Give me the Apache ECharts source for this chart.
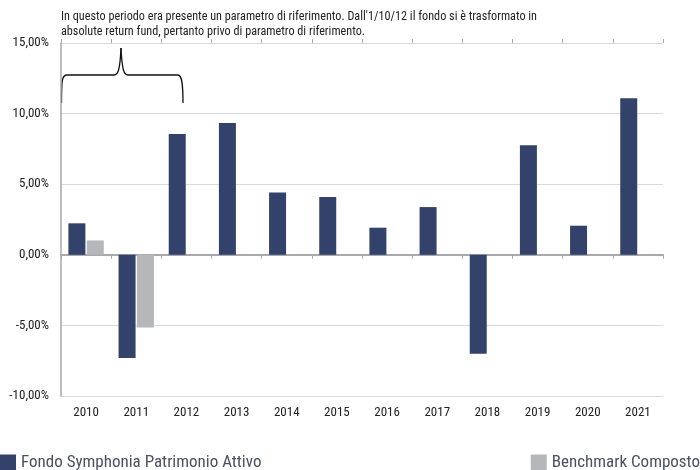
<!DOCTYPE html>
<html>
<head>
  <meta charset="UTF-8">
  <title>Fondo Symphonia Patrimonio Attivo</title>
  <script src="https://cdn.jsdelivr.net/npm/echarts@6/dist/echarts.min.js"></script>
</head>
<body style="margin:0">
  <div id="main" style="width: 700px; height: 470px;"></div>

  <script>
    const years = ['2010', '2011', '2012', '2013', '2014', '2015', '2016', '2017', '2018', '2019', '2020', '2021'];
    const fondo = [2.23, -7.3, 8.56, 9.34, 4.42, 4.09, 1.92, 3.38, -7.0, 7.76, 2.06, 11.09];
    const benchmark = [1.02, -5.15, null, null, null, null, null, null, null, null, null, null];
    const yTicks = [-10, -5, 0, 5, 10, 15];
    const note = [
      'In questo periodo era presente un parametro di riferimento. Dall\'1/10/12 il fondo si è trasformato in',
      'absolute return fund, pertanto privo di parametro di riferimento.'
    ];

    const font = '"Roboto Condensed", "DejaVu Sans Condensed", sans-serif';
    const navy = '#33426b';
    const grey = '#b5b7ba';
    const axisGrey = '#a7a9ad';
    const braceStyle = { fill: 'none', stroke: '#111', lineWidth: 1.3 };

    // curly brace over 2010-2011 (benchmark period)
    const brace = [
      { type: 'bezierCurve', shape: { x1: 61.5, y1: 103, cpx1: 61.5, cpy1: 80, cpx2: 62, cpy2: 75, x2: 67, y2: 75 } },
      { type: 'line', shape: { x1: 67, y1: 75, x2: 114, y2: 75 } },
      { type: 'bezierCurve', shape: { x1: 114, y1: 75, cpx1: 118, cpy1: 75, cpx2: 120, cpy2: 70, x2: 121, y2: 48 } },
      { type: 'bezierCurve', shape: { x1: 121, y1: 48, cpx1: 122, cpy1: 70, cpx2: 124, cpy2: 75, x2: 128, y2: 75 } },
      { type: 'line', shape: { x1: 128, y1: 75, x2: 178, y2: 75 } },
      { type: 'bezierCurve', shape: { x1: 178, y1: 75, cpx1: 182, cpy1: 75, cpx2: 183, cpy2: 85, x2: 183, y2: 103 } }
    ].map(g => Object.assign(g, { style: braceStyle }));

    const legendText = { fontSize: 17, color: '#4a5163', fontFamily: font };

    const option = {
      animation: false,
      textStyle: { fontFamily: font },
      grid: { left: 61, right: 37, top: 43, bottom: 74 },
      legend: [
        {
          data: ['Fondo Symphonia Patrimonio Attivo'],
          left: -5, bottom: -6, icon: 'rect',
          itemWidth: 16, itemHeight: 16,
          textStyle: legendText
        },
        {
          data: ['Benchmark Composto'],
          right: -5, bottom: -6, icon: 'rect',
          itemWidth: 16, itemHeight: 16,
          textStyle: legendText
        }
      ],
      xAxis: [
        {
          type: 'category', data: years, position: 'bottom',
          axisLine: { show: false, onZero: false },
          axisTick: { show: false },
          axisLabel: { fontSize: 13, color: '#222', margin: 10 }
        },
        {
          type: 'category', data: years, position: 'bottom',
          axisLine: { onZero: true, lineStyle: { color: axisGrey, width: 2 } },
          axisTick: { show: true, length: 4, lineStyle: { color: axisGrey } },
          axisLabel: { show: false }
        },
        {
          type: 'category', data: years, position: 'top',
          axisLine: { show: false, onZero: true },
          axisTick: { show: true, length: 4, lineStyle: { color: axisGrey } },
          axisLabel: { show: false }
        }
      ],
      yAxis: {
        type: 'value', min: yTicks[0], max: yTicks[yTicks.length - 1], interval: 5,
        axisLine: { show: true, lineStyle: { color: axisGrey, width: 1.5 } },
        axisTick: { show: false },
        splitLine: { lineStyle: { color: '#d9d9d9' } },
        axisLabel: {
          fontSize: 13, color: '#222', margin: 12,
          formatter: v => v.toFixed(2).replace('.', ',') + '%'
        }
      },
      series: [
        {
          name: 'Fondo Symphonia Patrimonio Attivo', type: 'bar',
          data: fondo, barWidth: 17, barGap: '8%',
          itemStyle: { color: navy }
        },
        {
          name: 'Benchmark Composto', type: 'bar',
          data: benchmark, barWidth: 17,
          itemStyle: { color: grey }
        }
      ],
      graphic: [
        {
          type: 'text', left: 61, top: 9,
          style: { text: note.join('\n'), font: '12.2px ' + font, fill: '#222', lineHeight: 15 }
        }
      ].concat(brace)
    };

    const chart = echarts.init(document.getElementById('main'));
    chart.setOption(option);
  </script>
</body>
</html>
